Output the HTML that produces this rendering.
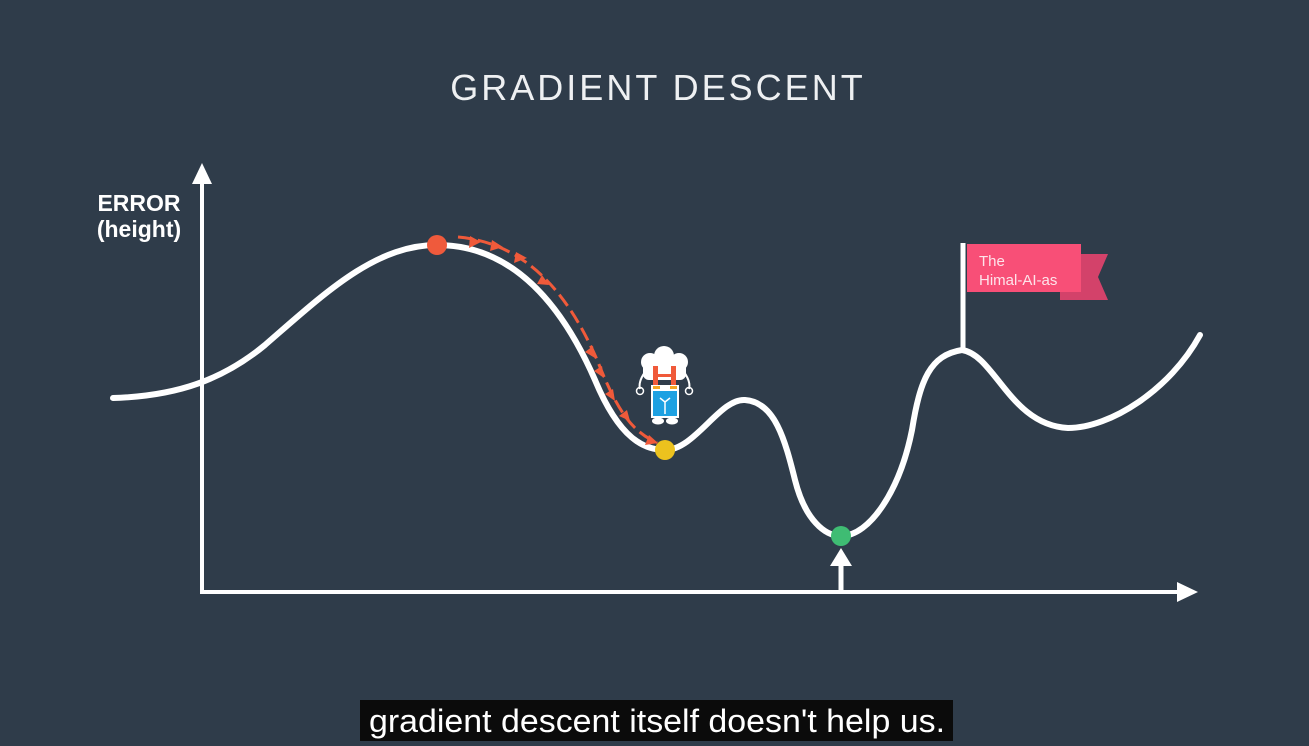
<!DOCTYPE html>
<html><head><meta charset="utf-8"><style>
html,body{margin:0;padding:0;background:#2f3c4a;}
body{width:1309px;height:746px;overflow:hidden;position:relative;font-family:"Liberation Sans",sans-serif;}
</style></head><body>
<svg width="1309" height="746" viewBox="0 0 1309 746" style="position:absolute;left:0;top:0">
<rect width="1309" height="746" fill="#2f3c4a"/>
<text x="658" y="100" text-anchor="middle" fill="#eef0f2" font-family="Liberation Sans, sans-serif" font-size="36" letter-spacing="3">GRADIENT DESCENT</text>
<text x="139" y="211" text-anchor="middle" fill="#fff" font-weight="bold" font-size="23">ERROR</text>
<text x="139" y="237" text-anchor="middle" fill="#fff" font-weight="bold" font-size="23">(height)</text>
<!-- axes -->
<line x1="202" y1="593" x2="202" y2="180" stroke="#fff" stroke-width="4"/>
<polygon points="202,163 192,184 212,184" fill="#fff"/>
<line x1="200" y1="592" x2="1180" y2="592" stroke="#fff" stroke-width="4"/>
<polygon points="1198,592 1177,582 1177,602" fill="#fff"/>
<line x1="841" y1="592" x2="841" y2="565" stroke="#fff" stroke-width="5"/>
<polygon points="841,548 830,566 852,566" fill="#fff"/>
<!-- curve -->
<path d="M113,398 C180,396 225,378 265,345 C325,293 375,245 437,245 C510,245 560,300 595,380 C620,440 645,450 665,450 C695,450 720,398 745,400 C775,402 785,440 795,480 C805,520 825,536 841,536 C870,536 900,490 912,430 C920,380 930,355 962,350 C995,355 1010,425 1068,428 C1110,428 1170,390 1200,335" fill="none" stroke="#fff" stroke-width="6" stroke-linecap="round"/>
<!-- red dashed arrows -->
<path d="M458,237 C525,243 568,292 598,362 C620,418 635,432 657,443" fill="none" stroke="#f05a3a" stroke-width="3" stroke-dasharray="14,6"/>
<g fill="#f05a3a">
<polygon points="481,242 470,236 469,248"/>
<polygon points="503,247 492,240 490,251"/>
<polygon points="527,258 516,252 514,263"/>
<polygon points="549,285 542,275 537,284"/>
<polygon points="595,358 593,346 585,352"/>
<polygon points="604,378 602,366 594,371"/>
<polygon points="615,401 613,389 605,394"/>
<polygon points="630,421 627,410 619,416"/>
<polygon points="658,443 649,435 645,445"/>
</g>
<circle cx="437" cy="245" r="10" fill="#ef5a3c"/>
<circle cx="665" cy="450" r="10" fill="#ecc21e"/>
<circle cx="841" cy="536" r="10" fill="#3fbc73"/>
<!-- robot -->
<g>
<circle cx="650" cy="362" r="9" fill="#fff"/>
<circle cx="679" cy="362" r="9" fill="#fff"/>
<circle cx="664" cy="356" r="10" fill="#fff"/>
<rect x="643" y="360" width="43" height="20" rx="6" fill="#fff"/>
<rect x="653" y="366" width="5" height="20" fill="#f05a3a"/>
<rect x="671" y="366" width="5" height="20" fill="#f05a3a"/>
<rect x="656" y="374" width="17" height="3" fill="#f05a3a"/>
<path d="M645,372 Q638,382 640,389 M684,372 Q691,382 689,389" stroke="#fff" stroke-width="2" fill="none"/>
<circle cx="640" cy="391" r="3.5" fill="none" stroke="#fff" stroke-width="1.5"/>
<circle cx="689" cy="391" r="3.5" fill="none" stroke="#fff" stroke-width="1.5"/>
<rect x="651" y="385" width="28" height="33" fill="#fff"/>
<rect x="653" y="386" width="7" height="3" fill="#f5a623"/>
<rect x="670" y="386" width="7" height="3" fill="#f5a623"/>
<rect x="653" y="391" width="24" height="25" fill="#1da1e2"/>
<path d="M660,398 L665,402 L670,398 M665,402 L665,414" stroke="#fff" stroke-width="1.5" fill="none"/>
<ellipse cx="658" cy="421" rx="6" ry="3.5" fill="#fff"/>
<ellipse cx="672" cy="421" rx="6" ry="3.5" fill="#fff"/>
</g>
<!-- flag -->
<line x1="963" y1="243" x2="963" y2="352" stroke="#fff" stroke-width="5"/>
<polygon points="1060,254 1108,254 1098,277 1108,300 1060,300" fill="#d3426a"/>
<rect x="967" y="244" width="114" height="48" fill="#f84f77"/>
<text x="979" y="266" fill="#fde4ea" font-size="15">The</text>
<text x="979" y="285" fill="#fde4ea" font-size="15">Himal-AI-as</text>
<!-- subtitle -->
<rect x="360" y="700" width="593" height="41" fill="#0b0b0b"/>
<text x="657" y="732" text-anchor="middle" fill="#fff" font-size="32" textLength="576" lengthAdjust="spacingAndGlyphs">gradient descent itself doesn't help us.</text>
</svg>
</body></html>
